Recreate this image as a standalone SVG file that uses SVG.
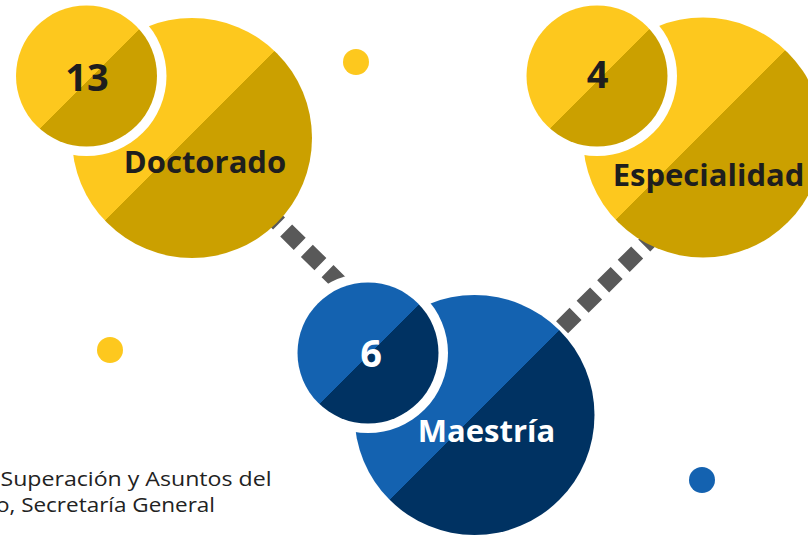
<svg xmlns="http://www.w3.org/2000/svg" width="808" height="536" viewBox="0 0 808 536">
  <defs>
    <linearGradient id="gYelBig" x1="0" y1="0" x2="1" y2="1">
      <stop offset="0.49" stop-color="#FDC81E"/>
      <stop offset="0.49" stop-color="#CBA000"/>
    </linearGradient>
    <linearGradient id="gYelSmall" x1="0" y1="0" x2="1" y2="1">
      <stop offset="0.52" stop-color="#FDC81E"/>
      <stop offset="0.52" stop-color="#CBA000"/>
    </linearGradient>
    <linearGradient id="gBlueBig" x1="0" y1="0" x2="1" y2="1">
      <stop offset="0.5" stop-color="#1462B0"/>
      <stop offset="0.5" stop-color="#003262"/>
    </linearGradient>
    <linearGradient id="gBlueSmall" x1="0" y1="0" x2="1" y2="1">
      <stop offset="0.51" stop-color="#1462B0"/>
      <stop offset="0.51" stop-color="#003262"/>
    </linearGradient>
  </defs>
  <style>
    .conn { stroke: #595959; stroke-width: 17; stroke-dasharray: 19 10; fill: none; }
    .ring { fill: #FFFFFF; }
    .num { font-family: "Open Sans", "Noto Sans", sans-serif; font-weight: 700; font-size: 38px; text-anchor: middle; }
    .lbl { font-family: "Open Sans", "Noto Sans", sans-serif; font-weight: 700; font-size: 31px; text-anchor: middle; }
    .dark { fill: #1E1E1E; }
    .light { fill: #FFFFFF; }
    .src { font-family: "Open Sans", "Noto Sans", sans-serif; font-size: 19.5px; fill: #222222; }
    .dotY { fill: #FDC81E; }
    .dotB { fill: #1462B0; }
  </style>
  <rect width="808" height="536" fill="#FFFFFF"/>

  <g id="connectors">
    <line class="conn" x1="192" y1="138" x2="474" y2="415" stroke-dashoffset="13"/>
    <line class="conn" x1="474" y1="415" x2="720" y2="170" stroke-dashoffset="20.7"/>
  </g>

  <g id="decor">
    <circle class="dotY" cx="356" cy="62" r="13"/>
    <circle class="dotY" cx="110" cy="350" r="13"/>
    <circle class="dotB" cx="702" cy="480" r="13"/>
  </g>

  <g id="node-doctorado">
    <circle cx="192" cy="138" r="120" fill="url(#gYelBig)"/>
    <circle class="ring" cx="86.5" cy="76" r="80"/>
    <circle cx="86.5" cy="76" r="70.5" fill="url(#gYelSmall)"/>
    <text class="num dark" x="87" y="91">13</text>
    <text class="lbl dark" x="205" y="172.5">Doctorado</text>
  </g>

  <g id="node-especialidad">
    <circle cx="703" cy="137.5" r="120" fill="url(#gYelBig)"/>
    <circle class="ring" cx="597" cy="76" r="80"/>
    <circle cx="597" cy="76" r="70.5" fill="url(#gYelSmall)"/>
    <text class="num dark" x="597.5" y="87.5">4</text>
    <text class="lbl dark" x="708.5" y="186">Especialidad</text>
  </g>

  <g id="node-maestria">
    <circle cx="474.5" cy="415" r="120" fill="url(#gBlueBig)"/>
    <circle class="ring" cx="368" cy="353" r="80"/>
    <circle cx="368" cy="353" r="70.5" fill="url(#gBlueSmall)"/>
    <text class="num light" x="371" y="366.5">6</text>
    <text class="lbl light" x="486.5" y="441.5">Maestría</text>
  </g>

  <g id="source">
    <text class="src" x="0.5" y="485.5" textLength="271" lengthAdjust="spacingAndGlyphs">Superación y Asuntos del</text>
    <text class="src" x="-4" y="512" textLength="219" lengthAdjust="spacingAndGlyphs">o, Secretaría General</text>
  </g>
</svg>
